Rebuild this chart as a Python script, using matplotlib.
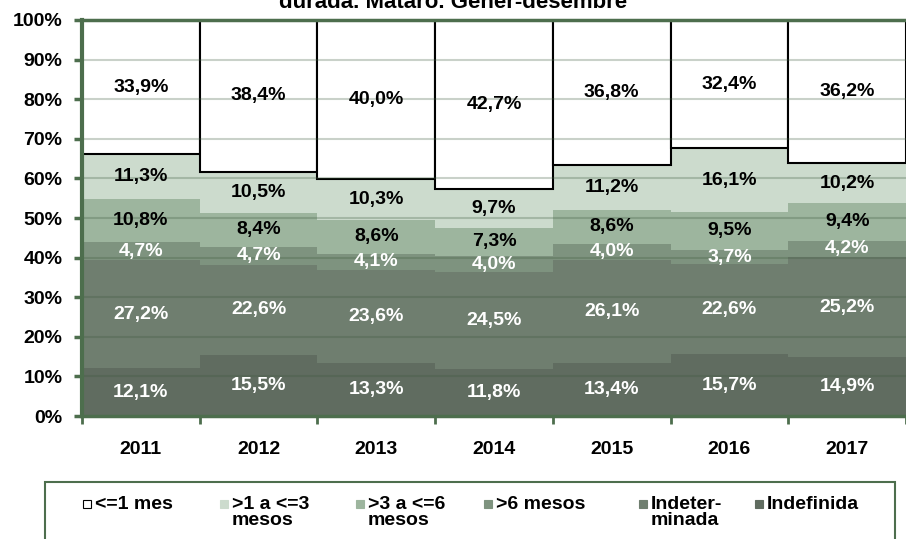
import numpy as np
import matplotlib.pyplot as plt
from matplotlib.patches import Rectangle

plt.rcParams['font.family'] = ['Liberation Sans', 'DejaVu Sans']
plt.rcParams['font.weight'] = 'bold'

years = ['2011', '2012', '2013', '2014', '2015', '2016', '2017']

# stacked from the bottom up
indefinida = [12.1, 15.5, 13.3, 11.8, 13.4, 15.7, 14.9]
indeterminada = [27.2, 22.6, 23.6, 24.5, 26.1, 22.6, 25.2]
mes6 = [4.7, 4.7, 4.1, 4.0, 4.0, 3.7, 4.2]
mes3a6 = [10.8, 8.4, 8.6, 7.3, 8.6, 9.5, 9.4]
mes1a3 = [11.3, 10.5, 10.3, 9.7, 11.2, 16.1, 10.2]
mes1 = [33.9, 38.4, 40.0, 42.7, 36.8, 32.4, 36.2]

series = [indefinida, indeterminada, mes6, mes3a6, mes1a3, mes1]
colors = ['#606c60', '#6f7e6f', '#7e937f', '#9db59e', '#ccdbcd', '#ffffff']
text_colors = ['white', 'white', 'white', 'black', 'black', 'black']

legend_labels = ['<=1 mes', '>1 a <=3\nmesos', '>3 a <=6\nmesos', '>6 mesos',
                 'Indeter-\nminada', 'Indefinida']
legend_colors = ['#ffffff', '#ccdbcd', '#9db59e', '#7e937f', '#6f7e6f', '#606c60']

green = '#4d6e4d'

fig = plt.figure(figsize=(9.06, 5.39), dpi=100)
ax = fig.add_axes([0.0905, 0.228, 0.9095, 0.735])

x = np.arange(len(years))
bottom = np.zeros(len(years))
for vals, col, tc in zip(series, colors, text_colors):
    vals = np.array(vals)
    if col == '#ffffff':
        ax.bar(x, vals, width=1.0, bottom=bottom, color=col,
               edgecolor='black', linewidth=1.5, zorder=3)
    else:
        ax.bar(x, vals, width=1.0, bottom=bottom, color=col,
               edgecolor='none', zorder=2)
    for xi, v, b in zip(x, vals, bottom):
        ax.text(xi, b + v / 2, f'{v:.1f}%'.replace('.', ','), ha='center',
                va='center', color=tc, fontsize=14, fontweight='bold', zorder=6)
    bottom += vals

# gridlines on top of the bars
for yv in range(10, 100, 10):
    ax.axhline(yv, color='#3e5a3e', alpha=0.28, linewidth=1.5, zorder=4)

ax.set_xlim(-0.5, 6.436)
ax.set_ylim(0, 100)
ax.set_yticks(range(0, 101, 10))
ax.set_yticklabels([f'{v}%' for v in range(0, 101, 10)])
ax.set_xticks(x)
ax.set_xticklabels(years)
ax.set_xticks(np.arange(-0.5, 7, 1), minor=True)
ax.tick_params(axis='x', which='major', length=0, pad=18, labelsize=14)
ax.tick_params(axis='x', which='minor', length=6, width=2, color=green)
ax.tick_params(axis='y', length=6, width=2.5, color=green, labelsize=14, pad=8)
for lab in ax.get_xticklabels() + ax.get_yticklabels():
    lab.set_fontweight('bold')

ax.spines['right'].set_visible(False)
ax.spines['left'].set_color(green)
ax.spines['left'].set_linewidth(3)
ax.spines['bottom'].set_color(green)
ax.spines['bottom'].set_linewidth(2.5)
ax.spines['top'].set_color(green)
ax.spines['top'].set_linewidth(2.5)
for s in ax.spines.values():
    s.set_zorder(7)

fig.text(0.5, 0.986, 'durada. Mataró. Gener-desembre', ha='center',
         va='baseline', fontsize=16, fontweight='bold')

# legend box
W, H = 906.0, 539.0
fig.patches.append(Rectangle((45 / W, -0.05), 850 / W, 0.05 + 57 / H,
                             transform=fig.transFigure, facecolor='white',
                             edgecolor=green, linewidth=1.5))
hx = [83, 220, 356, 484, 639, 755]
for px, lab, col in zip(hx, legend_labels, legend_colors):
    ec = 'black' if col == '#ffffff' else col
    fig.patches.append(Rectangle((px / W, 1 - 508 / H), 8 / W, 8 / H,
                                 transform=fig.transFigure, facecolor=col,
                                 edgecolor=ec, linewidth=0.8))
    fig.text((px + 12) / W, 1 - 496 / H, lab, ha='left', va='top',
             fontsize=14, fontweight='bold', linespacing=0.95)

fig.savefig('out.png', dpi=100)
